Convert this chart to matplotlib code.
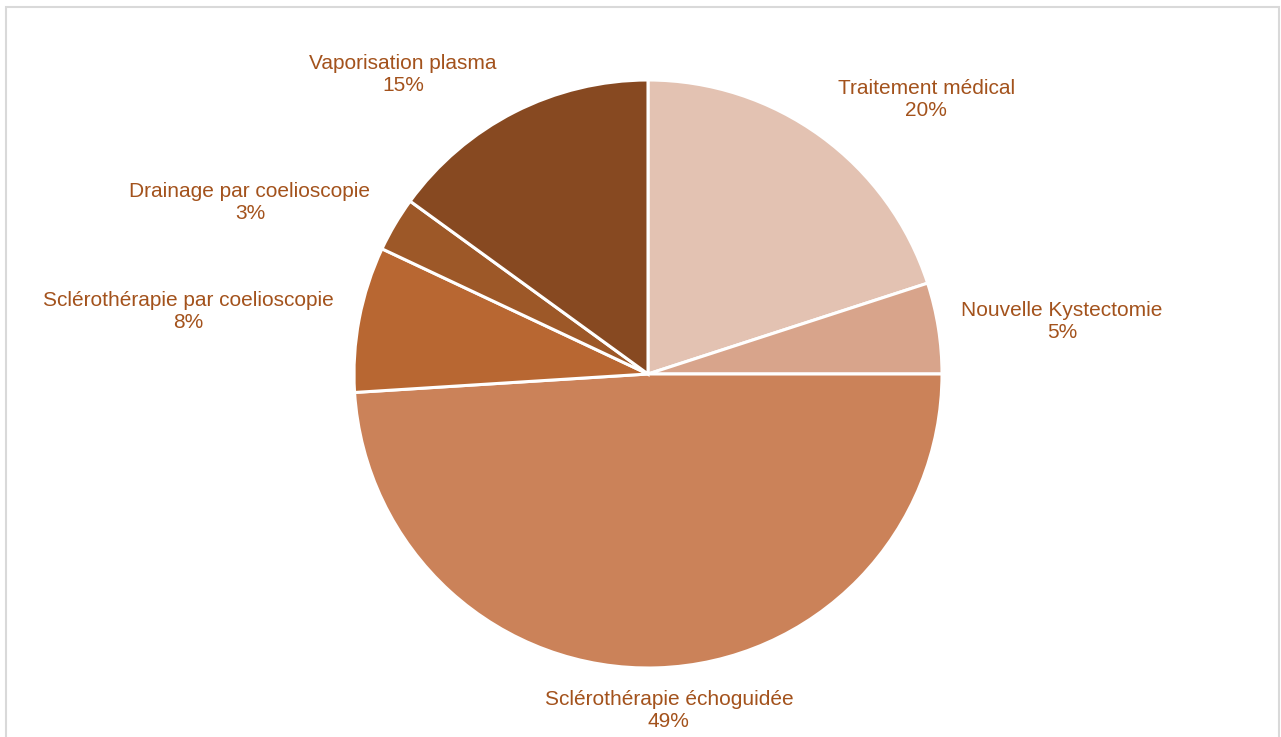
import matplotlib.pyplot as plt
from matplotlib.patches import Rectangle

plt.rcParams['font.family'] = ['Liberation Sans', 'DejaVu Sans']

categories = ['Traitement médical', 'Nouvelle Kystectomie', 'Sclérothérapie échoguidée',
              'Sclérothérapie par coelioscopie', 'Drainage par coelioscopie', 'Vaporisation plasma']
shares = [20, 5, 49, 8, 3, 15]
colors = ['#E3C2B2', '#D8A48B', '#CB8259', '#B86732', '#9D5828', '#874921']

# positions des étiquettes (coordonnées du camembert, rayon = 1)
label_pos = [(0.946, 0.935), (1.408, 0.177), (0.071, -1.146),
             (-1.565, 0.211), (-1.354, 0.585), (-0.833, 1.020)]

W, H = 1281, 737
fig = plt.figure(figsize=(W / 100, H / 100), dpi=100)

# cadre gris léger autour du graphique (le bas est coupé)
fig.patches.append(Rectangle((6 / W, -0.05), 1273 / W, (H - 7) / H + 0.05, transform=fig.transFigure,
                             fill=False, edgecolor='#D9D9D9', linewidth=1.5))

cx, cy, r = 648, 374, 294
ax = fig.add_axes([(cx - r) / W, (H - cy - r) / H, 2 * r / W, 2 * r / H])
ax.pie(shares, colors=colors, startangle=90, counterclock=False, radius=1,
       wedgeprops=dict(edgecolor='white', linewidth=2.2))
ax.set_xlim(-1, 1)
ax.set_ylim(-1, 1)
ax.set_aspect('equal')
ax.axis('off')

for name, val, (x, y) in zip(categories, shares, label_pos):
    ax.text(x, y, f'{name}\n{val}%', ha='center', va='center', fontsize=15,
            color='#A3521C', linespacing=1.2, clip_on=False)

fig.savefig('out.png', dpi=100)
